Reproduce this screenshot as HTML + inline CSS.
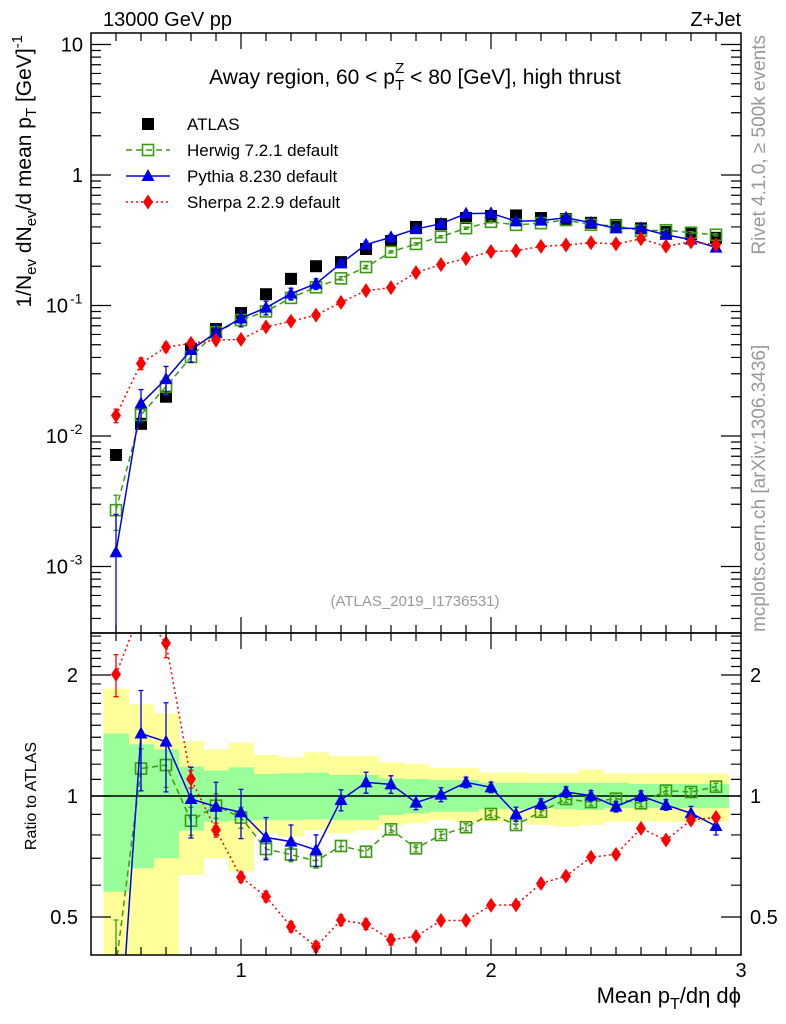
<!DOCTYPE html>
<html><head><meta charset="utf-8">
<style>
html,body{margin:0;padding:0;background:#fff;overflow:hidden;width:786px;height:1024px;}
svg{display:block;font-family:"Liberation Sans",sans-serif;}
</style></head>
<body>
<svg id="chart" width="786" height="1024" viewBox="0 0 786 1024" xmlns="http://www.w3.org/2000/svg">
<defs>
<clipPath id="clipMain"><rect x="91" y="33" width="650" height="600"/></clipPath>
<clipPath id="clipRatio"><rect x="91" y="633" width="650" height="322"/></clipPath>
</defs>
<g id="bands" clip-path="url(#clipRatio)"></g>
<line x1="91" y1="796" x2="741" y2="796" stroke="#000" stroke-width="1.5"/>
<g id="series"></g>
<rect x="91" y="33" width="650" height="600" fill="none" stroke="#000" stroke-width="1.5"/>
<rect x="91" y="633" width="650" height="322" fill="none" stroke="#000" stroke-width="1.5"/>
<g id="ticks" stroke="#000" stroke-width="1.2"></g>
<g id="labels" font-size="20" fill="#000"></g>

<text x="103" y="26" font-size="20">13000 GeV pp</text>
<text x="741" y="26" font-size="20" text-anchor="end">Z+Jet</text>
<text x="415" y="84" font-size="21" text-anchor="middle">Away region, 60 &lt; p<tspan font-size="15" dy="6">T</tspan><tspan font-size="15" dx="-9" dy="-17">Z</tspan><tspan dy="11"> &lt; 80 [GeV], high thrust</tspan></text>
<text x="415" y="606" font-size="15" fill="#999" text-anchor="middle">(ATLAS_2019_I1736531)</text>
<text transform="translate(765,35) rotate(-90)" font-size="19" fill="#999" text-anchor="end">Rivet 4.1.0, ≥ 500k events</text>
<text transform="translate(765,632) rotate(-90)" font-size="19" fill="#999">mcplots.cern.ch [arXiv:1306.3436]</text>
<text transform="translate(31,35) rotate(-90)" font-size="21" text-anchor="end">1/N<tspan font-size="15" dy="5">ev</tspan><tspan dy="-5"> dN</tspan><tspan font-size="15" dy="5">ev</tspan><tspan dy="-5">/d mean p</tspan><tspan font-size="15" dy="5">T</tspan><tspan dy="-5"> [GeV]</tspan><tspan font-size="15" dy="-9">-1</tspan></text>
<text transform="translate(36,796) rotate(-90)" font-size="16" text-anchor="middle">Ratio to ATLAS</text>
<text x="741" y="1003" font-size="22" text-anchor="end">Mean p<tspan font-size="16" dy="6">T</tspan><tspan dy="-6">/dη dϕ</tspan></text>

<g id="legend" font-size="17"></g>
</svg>
<script>
const xs = [0.5,0.6,0.7,0.8,0.9,1.0,1.1,1.2,1.3,1.4,1.5,1.6,1.7,1.8,1.9,2.0,2.1,2.2,2.3,2.4,2.5,2.6,2.7,2.8,2.9];
const atlasVals = [0.00715,0.0124,0.020,0.0465,0.066,0.0875,0.122,0.16,0.20,0.215,0.271,0.312,0.40,0.42,0.468,0.485,0.49,0.468,0.46,0.43,0.414,0.39,0.366,0.353,0.33];
const herwigRatio = [0.378,1.17,1.194,0.868,0.946,0.884,0.738,0.715,0.689,0.751,0.727,0.826,0.741,0.80,0.836,0.902,0.847,0.914,0.983,0.966,0.985,0.959,1.031,1.023,1.055];
const pythiaRatio = [0.18,1.43,1.365,0.983,0.941,0.911,0.789,0.77,0.734,0.977,1.081,1.069,0.963,1.008,1.081,1.051,0.902,0.955,1.023,1.002,0.941,1.0,0.95,0.906,0.842];
const sherpaRatio = [2.007,2.9,2.4,1.102,0.823,0.628,0.562,0.473,0.422,0.491,0.48,0.439,0.447,0.49,0.49,0.535,0.536,0.606,0.632,0.704,0.716,0.831,0.777,0.871,0.885];
const herwigErr = [0.3,0.12,0.12,0.08,0.07,0.06,0.05,0.04,0.04,0.03,0.03,0.02,0.02,0.02,0.02,0.02,0.02,0.02,0.02,0.02,0.02,0.02,0.02,0.02,0.02];
const pythiaErr = [0.95,0.28,0.25,0.2,0.15,0.14,0.12,0.1,0.09,0.06,0.06,0.05,0.04,0.04,0.03,0.03,0.04,0.03,0.03,0.03,0.03,0.03,0.03,0.04,0.05];
const sherpaErr = [0.12,0.1,0.08,0.05,0.04,0.03,0.03,0.03,0.03,0.03,0.03,0.03,0.02,0.02,0.02,0.02,0.02,0.02,0.02,0.02,0.02,0.02,0.02,0.02,0.02];
const yellowUp = [1.85,1.69,1.605,1.37,1.306,1.357,1.265,1.248,1.284,1.258,1.258,1.213,1.201,1.176,1.176,1.143,1.143,1.139,1.139,1.165,1.139,1.139,1.139,1.139,1.139];
const yellowDn = [0.3,0.3,0.3,0.636,0.70,0.649,0.808,0.792,0.823,0.808,0.823,0.847,0.855,0.871,0.863,0.863,0.863,0.847,0.839,0.847,0.863,0.863,0.863,0.863,0.863];
const greenUp = [1.43,1.345,1.306,1.183,1.157,1.178,1.134,1.139,1.143,1.128,1.128,1.106,1.102,1.096,1.096,1.079,1.079,1.079,1.079,1.079,1.079,1.071,1.071,1.071,1.071];
const greenDn = [0.578,0.661,0.70,0.82,0.863,0.868,0.871,0.871,0.875,0.871,0.871,0.897,0.905,0.914,0.914,0.927,0.927,0.933,0.927,0.923,0.933,0.933,0.933,0.933,0.933];
const binHalf = 0.05;
const mainTickLabels = ["10","1","10","10","10"];
const ratioTickVals = [0.5,1,2];
const ratioTickLabels = ["0.5","1","2"];
const xTickVals = [1,2,3];
const xTickLabels = ["1","2","3"];

const NS = "http://www.w3.org/2000/svg";
const X = v => 91 + (v - 0.4) * 250;
const Y = v => 175 - 130.5 * Math.log10(v);
const RY = r => 796 - 121 * Math.log2(r);
function el(tag, attrs, parent) {
  const e = document.createElementNS(NS, tag);
  for (const k in attrs) e.setAttribute(k, attrs[k]);
  parent.appendChild(e);
  return e;
}
const bands = document.getElementById('bands');
xs.forEach((x, i) => {
  const r1 = el('rect', {x: X(x - binHalf), y: RY(yellowUp[i]), width: X(x + binHalf) - X(x - binHalf) + 0.5, height: RY(yellowDn[i]) - RY(yellowUp[i]), fill: '#ffff99'}, bands);
  
  
});
xs.forEach((x, i) => {
  const r2 = el('rect', {x: X(x - binHalf), y: RY(greenUp[i]), width: X(x + binHalf) - X(x - binHalf) + 0.5, height: RY(greenDn[i]) - RY(greenUp[i]), fill: '#99ff99'}, bands);
  
  
});

const series = document.getElementById('series');
const gMain = el('g', {'clip-path': 'url(#clipMain)'}, series);
const gRatio = el('g', {'clip-path': 'url(#clipRatio)'}, series);

function marker(type, cx, cy, color, parent) {
  let m;
  if (type === 'sq') m = el('rect', {x: cx - 6, y: cy - 6, width: 12, height: 12, fill: '#000'}, parent);
  else if (type === 'osq') m = el('rect', {x: cx - 5.5, y: cy - 5.5, width: 11, height: 11, fill: 'none', stroke: color, 'stroke-width': 1.6}, parent);
  else if (type === 'tri') m = el('polygon', {points: `${cx},${cy - 7} ${cx - 6.5},${cy + 5} ${cx + 6.5},${cy + 5}`, fill: color}, parent);
  else m = el('polygon', {points: `${cx},${cy - 7.5} ${cx - 5},${cy} ${cx},${cy + 7.5} ${cx + 5},${cy}`, fill: color}, parent);
  return m;
}

const mcDefs = [
  {name: 'herwig', ratio: herwigRatio, err: herwigErr, color: '#3a9a12', dash: '6,4', type: 'osq'},
  {name: 'pythia', ratio: pythiaRatio, err: pythiaErr, color: '#0000e6', dash: '', type: 'tri'},
  {name: 'sherpa', ratio: sherpaRatio, err: sherpaErr, color: '#ff0000', dash: '2,3', type: 'dia'}
];

xs.forEach((x, i) => {
  const m = marker('sq', X(x), Y(atlasVals[i]), '#000', gMain);
  
  
});

mcDefs.forEach(s => {
  const vals = xs.map((x, i) => atlasVals[i] * s.ratio[i]);
  [[gMain, vals, Y], [gRatio, s.ratio, RY]].forEach(([g, arr, fy]) => {
    const pts = xs.map((x, i) => `${X(x)},${fy(arr[i])}`).join(' ');
    const line = el('polyline', {points: pts, fill: 'none', stroke: s.color, 'stroke-width': 1.5}, g);
    if (s.dash) line.setAttribute('stroke-dasharray', s.dash);
    
    
    xs.forEach((x, i) => {
      const hi = fy(arr[i] * (1 + s.err[i])), lo = fy(Math.max(arr[i] * (1 - s.err[i]), 1e-6));
      const eb = el('path', {d: `M${X(x)},${hi}V${lo}M${X(x) - 2.5},${hi}H${X(x) + 2.5}M${X(x) - 2.5},${lo}H${X(x) + 2.5}`, stroke: s.color, 'stroke-width': 1.3, fill: 'none'}, g);
      
      
      const m = marker(s.type, X(x), fy(arr[i]), s.color, g);
      
      
    });
  });
});

const ticks = document.getElementById('ticks');
let d = '';
for (let v = 0.5; v <= 2.95; v += 0.1) {
  const isMaj = Math.abs(v - Math.round(v)) < 1e-6;
  const L = isMaj ? 16 : 8;
  const px = X(v);
  d += `M${px},633V${633 - L}M${px},33V${33 + L}M${px},955V${955 - L}M${px},633V${633 + L}`;
}
for (let e = -4; e <= 1; e++) {
  for (let k = 1; k <= 9; k++) {
    const v = k * Math.pow(10, e);
    const py = Y(v);
    if (py < 33 || py > 633) continue;
    const L = k === 1 ? 20 : 10;
    d += `M91,${py}H${91 + L}M741,${py}H${741 - L}`;
  }
}
for (let r = 0.4; r <= 2.55; r += 0.1) {
  const py = RY(r);
  if (py < 633 || py > 955) continue;
  const maj = ratioTickVals.some(t => Math.abs(t - r) < 1e-6);
  const L = maj ? 20 : 10;
  d += `M91,${py}H${91 + L}M741,${py}H${741 - L}`;
}
const tp = el('path', {d: d}, ticks);



const labels = document.getElementById('labels');
const decVals = [10, 1, 0.1, 0.01, 0.001];
const decExp = ["", "", "-1", "-2", "-3"];
decVals.forEach((v, i) => {
  const t = el('text', {x: decExp[i] ? 68 : 83, y: Y(v) + 7, 'text-anchor': 'end'}, labels);
  t.textContent = mainTickLabels[i];
  
  
  if (decExp[i]) {
    const s = el('text', {x: 70, y: Y(v) - 2, 'font-size': 14}, labels);
    s.textContent = decExp[i];
    
    
  }
});
ratioTickVals.forEach((r, i) => {
  const t = el('text', {x: 78, y: RY(r) + 7, 'text-anchor': 'end'}, labels);
  t.textContent = ratioTickLabels[i];
  
  
  const t2 = el('text', {x: 750, y: RY(r) + 7}, labels);
  t2.textContent = ratioTickLabels[i];
  
  
});
xTickVals.forEach((v, i) => {
  const t = el('text', {x: X(v), y: 977, 'text-anchor': 'middle'}, labels);
  t.textContent = xTickLabels[i];
  
  
});

const legend = document.getElementById('legend');
const legEntries = [
  {label: 'ATLAS', type: 'sq', color: '#000', dash: null},
  {label: 'Herwig 7.2.1 default', type: 'osq', color: '#3a9a12', dash: '6,4'},
  {label: 'Pythia 8.230 default', type: 'tri', color: '#0000e6', dash: ''},
  {label: 'Sherpa 2.2.9 default', type: 'dia', color: '#ff0000', dash: '2,3'}
];
legEntries.forEach((e, i) => {
  const y = 124 + i * 26;
  const g = el('g', {}, legend);
  
  
  if (e.dash !== null) {
    const l = el('line', {x1: 126, y1: y, x2: 170, y2: y, stroke: e.color, 'stroke-width': 1.5}, g);
    if (e.dash) l.setAttribute('stroke-dasharray', e.dash);
  }
  marker(e.type, 148, y, e.color, g);
  const t = el('text', {x: 187, y: y + 6}, g);
  t.textContent = e.label;
});
</script>
</body></html>
